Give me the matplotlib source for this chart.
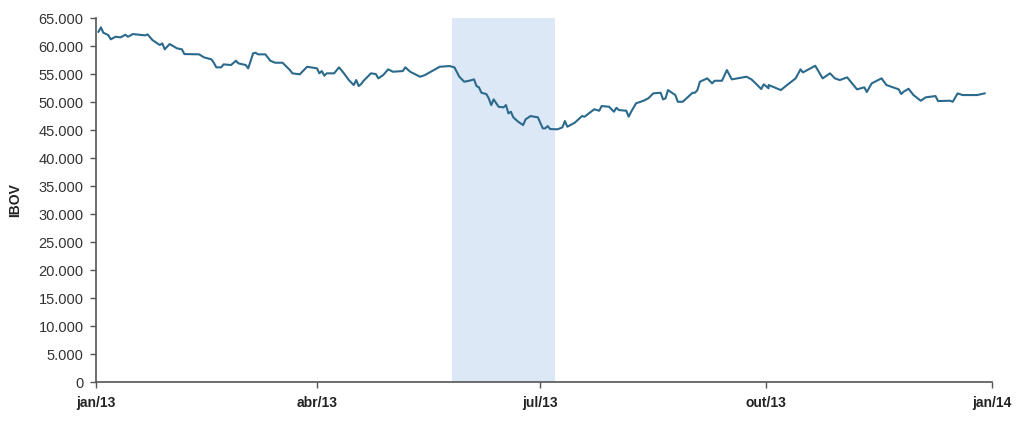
import matplotlib
matplotlib.use("Agg")
import matplotlib.pyplot as plt
import matplotlib.dates as mdates
import matplotlib.ticker as mticker
import pandas as pd

plt.rcParams['font.family'] = ['Liberation Sans', 'DejaVu Sans']

dates = [
    "2013-01-02", "2013-01-03", "2013-01-04", "2013-01-06", "2013-01-07", "2013-01-09", "2013-01-11",
    "2013-01-13", "2013-01-14", "2013-01-16", "2013-01-21", "2013-01-22", "2013-01-24", "2013-01-27",
    "2013-01-28", "2013-01-29", "2013-01-31", "2013-02-03", "2013-02-05", "2013-02-06", "2013-02-12",
    "2013-02-14", "2013-02-17", "2013-02-18", "2013-02-19", "2013-02-21", "2013-02-22", "2013-02-25",
    "2013-02-27", "2013-02-28", "2013-03-03", "2013-03-04", "2013-03-06", "2013-03-07", "2013-03-08",
    "2013-03-11", "2013-03-13", "2013-03-15", "2013-03-18", "2013-03-21", "2013-03-22", "2013-03-25",
    "2013-03-28", "2013-04-01", "2013-04-02", "2013-04-03", "2013-04-04", "2013-04-05", "2013-04-08",
    "2013-04-10", "2013-04-12", "2013-04-14", "2013-04-16", "2013-04-17", "2013-04-18", "2013-04-19",
    "2013-04-20", "2013-04-21", "2013-04-23", "2013-04-25", "2013-04-26", "2013-04-28", "2013-04-30",
    "2013-05-02", "2013-05-06", "2013-05-07", "2013-05-09", "2013-05-13", "2013-05-15", "2013-05-21",
    "2013-05-25", "2013-05-27", "2013-05-29", "2013-05-31", "2013-06-02", "2013-06-04", "2013-06-05",
    "2013-06-06", "2013-06-07", "2013-06-09", "2013-06-10", "2013-06-11", "2013-06-12", "2013-06-14",
    "2013-06-16", "2013-06-17", "2013-06-18", "2013-06-19", "2013-06-20", "2013-06-22", "2013-06-24",
    "2013-06-25", "2013-06-27", "2013-06-30", "2013-07-02", "2013-07-03", "2013-07-04", "2013-07-05",
    "2013-07-08", "2013-07-10", "2013-07-11", "2013-07-12", "2013-07-15", "2013-07-18", "2013-07-19",
    "2013-07-22", "2013-07-23", "2013-07-25", "2013-07-26", "2013-07-29", "2013-07-31", "2013-08-01",
    "2013-08-02", "2013-08-05", "2013-08-06", "2013-08-07", "2013-08-09", "2013-08-12", "2013-08-14",
    "2013-08-16", "2013-08-19", "2013-08-20", "2013-08-21", "2013-08-22", "2013-08-23", "2013-08-25",
    "2013-08-26", "2013-08-28", "2013-08-30", "2013-09-01", "2013-09-02", "2013-09-03", "2013-09-04",
    "2013-09-07", "2013-09-09", "2013-09-10", "2013-09-13", "2013-09-15", "2013-09-17", "2013-09-23",
    "2013-09-25", "2013-09-27", "2013-09-29", "2013-09-30", "2013-10-02", "2013-10-02", "2013-10-03",
    "2013-10-07", "2013-10-09", "2013-10-13", "2013-10-15", "2013-10-16", "2013-10-21", "2013-10-24",
    "2013-10-27", "2013-10-29", "2013-10-31", "2013-11-03", "2013-11-07", "2013-11-10", "2013-11-11",
    "2013-11-13", "2013-11-17", "2013-11-19", "2013-11-21", "2013-11-24", "2013-11-25", "2013-11-26",
    "2013-11-28", "2013-11-30", "2013-12-03", "2013-12-05", "2013-12-09", "2013-12-10", "2013-12-15",
    "2013-12-16", "2013-12-18", "2013-12-20", "2013-12-26", "2013-12-29",
]
ibov = [
    62550, 63340, 62380, 61960, 61200, 61660, 61550,
    62020, 61660, 62140, 61910, 62090, 61070, 60180,
    60480, 59410, 60360, 59590, 59410, 58570, 58520,
    57980, 57630, 57020, 56200, 56200, 56730, 56610,
    57380, 56910, 56610, 56020, 58700, 58800, 58520,
    58520, 57380, 57020, 57020, 55710, 55130, 54950,
    56300, 56020, 55130, 55540, 54700, 55130, 55130,
    56200, 55130, 53930, 53040, 53930, 52860, 53210,
    53800, 54230, 55130, 55000, 54230, 54820, 55840,
    55410, 55540, 56200, 55410, 54520, 54820, 56300,
    56430, 56200, 54520, 53630, 53800, 54050, 52860,
    52630, 51660, 51430, 50660, 49460, 50480, 49160,
    49050, 49460, 47980, 48270, 47270, 46480, 45890,
    46910, 47500, 47270, 45300, 45300, 45710, 45180,
    45130, 45480, 46610, 45590, 46300, 47500, 47380,
    48390, 48700, 48450, 49290, 49160, 48270, 48980,
    48570, 48450, 47380, 48270, 49770, 50230, 50660,
    51550, 51660, 50480, 50660, 52140, 51840, 51250,
    50050, 50050, 50840, 51660, 51660, 52140, 53630,
    54230, 53340, 53800, 53800, 55710, 54050, 54520,
    54050, 53210, 52320, 53160, 53040, 52450, 52860,
    52140, 52860, 54230, 55840, 55300, 56480, 54230,
    55130, 54230, 53930, 54410, 52270, 52630, 51790,
    53340, 54230, 53040, 52730, 52270, 51430, 51840,
    52380, 51250, 50230, 50840, 51070, 50180, 50230,
    50050, 51550, 51250, 51250, 51550,
]

shade_start = "2013-05-26"
shade_end = "2013-07-07"

x_min = "2013-01-01"
x_max = "2014-01-01"
tick_dates = ["2013-01-01", "2013-04-01", "2013-07-01", "2013-10-01", "2014-01-01"]
tick_labels = ["jan/13", "abr/13", "jul/13", "out/13", "jan/14"]
y_ticks = list(range(0, 65001, 5000))

df = pd.DataFrame({"date": pd.to_datetime(dates), "ibov": ibov}).sort_values("date")

fig = plt.figure(figsize=(10.24, 4.21), dpi=100)
ax = fig.add_axes([0.09375, 0.0926, 0.875, 0.8645])

ax.axvspan(pd.Timestamp(shade_start), pd.Timestamp(shade_end), color="#dce8f6", zorder=0, lw=0)
ax.plot(df["date"], df["ibov"], color="#2b6a8c", lw=1.5, zorder=2)

ax.set_xlim(pd.Timestamp(x_min), pd.Timestamp(x_max))
ax.set_ylim(0, 65000)
ax.set_xticks([pd.Timestamp(t) for t in tick_dates])
ax.set_xticklabels(tick_labels, fontweight="bold", fontsize=10, color="#222222")
ax.set_yticks(y_ticks)
ax.yaxis.set_major_formatter(mticker.FuncFormatter(lambda v, p: f"{int(v):,}".replace(",", ".")))
for lab in ax.get_yticklabels():
    lab.set_fontsize(10.5)
    lab.set_color("#333333")

ax.set_ylabel("IBOV", fontweight="bold", fontsize=10, color="#222222", labelpad=12)

for s in ["top", "right"]:
    ax.spines[s].set_visible(False)
for s in ["left", "bottom"]:
    ax.spines[s].set_color("#555555")
    ax.spines[s].set_linewidth(1.2)
ax.tick_params(axis="both", direction="out", length=4, width=1.0, color="#555555")
ax.tick_params(axis="x", pad=6)
ax.tick_params(axis="y", pad=5)

fig.savefig("out.png", dpi=100)
